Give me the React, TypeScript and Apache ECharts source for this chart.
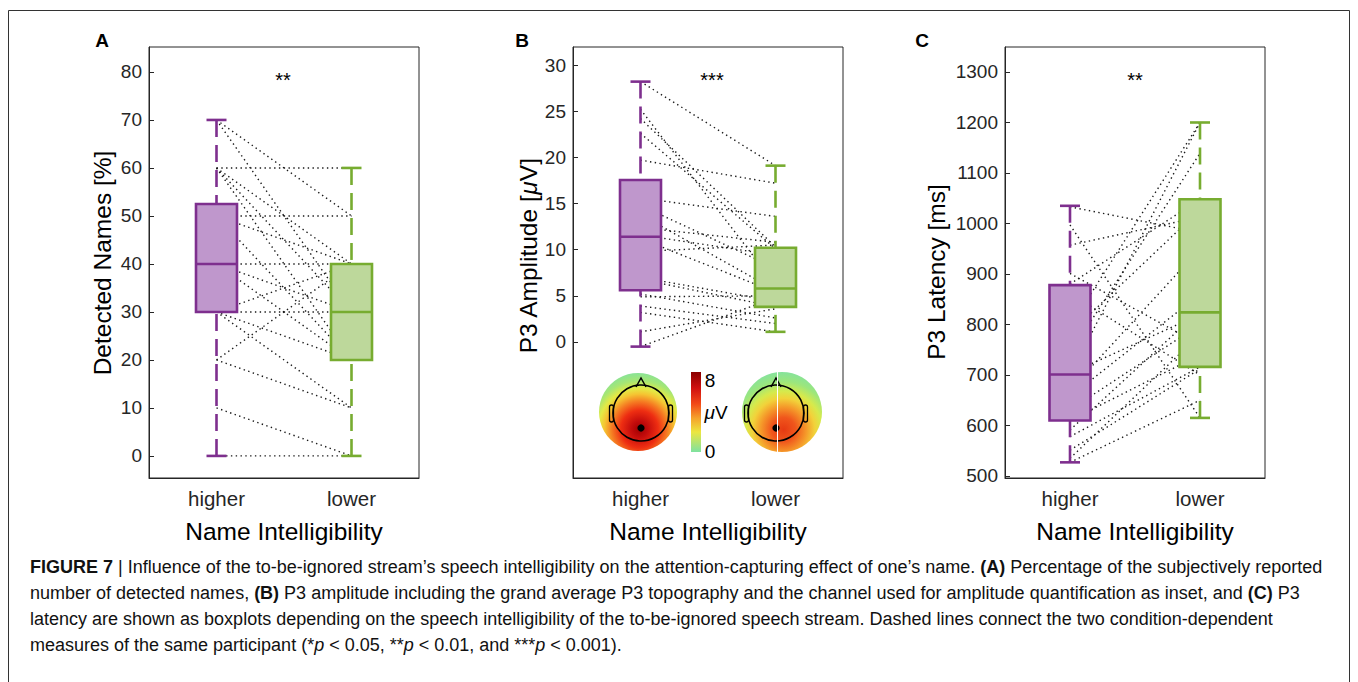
import React, { useEffect, useRef } from "react";
import * as echarts from "echarts";

const conditions = ["higher", "lower"];

// Panel A: detected names [%] per participant
const namesHigher = [70, 70, 60, 60, 60, 60, 50, 50, 50, 40, 40, 40, 30, 30, 30, 30, 20, 20, 10, 0];
const namesLower = [50, 30, 60, 40, 30, 20, 50, 40, 20, 40, 30, 20, 30, 20, 10, 40, 40, 10, 0, 0];
// box stats: [min, q1, median, q3, max]
const namesBoxHigher = [0, 30, 40, 52.5, 70];
const namesBoxLower = [0, 20, 30, 40, 60];

// Panel B: P3 amplitude [uV]
const ampHigher = [28.2, 25.2, 24.2, 22.6, 19.7, 15.6, 14.8, 13.8, 12.4, 11.6, 11.2, 9.8, 7.0, 6.8, 5.2, 4.9, 3.9, 3.2, 1.1, -0.5];
const ampLower = [19.1, 6.2, 10.3, 10.1, 17.2, 13.6, 8.0, 5.6, 10.8, 9.4, 5.4, 10.5, 4.4, 3.8, 2.6, 5.0, 2.0, 1.1, 3.6, 4.8];
const ampBoxHigher = [-0.5, 5.6, 11.4, 17.55, 28.2];
const ampBoxLower = [1.1, 3.8, 5.8, 10.2, 19.1];

// Panel C: P3 latency [ms]
const latHigher = [1033, 997, 957, 901, 880, 862, 796, 783, 743, 703, 700, 670, 657, 631, 610, 591, 578, 551, 535, 527];
const latLower = [982, 615, 1013, 760, 1048, 700, 1200, 1027, 1139, 820, 1200, 950, 860, 800, 740, 828, 716, 712, 780, 650];
const latBoxHigher = [527, 610, 701, 878, 1035];
const latBoxLower = [615, 716, 824, 1048, 1200];

// tick labels
const namesTicks = [0, 10, 20, 30, 40, 50, 60, 70, 80];
const ampTicks = [0, 5, 10, 15, 20, 25, 30];
const latTicks = [500, 600, 700, 800, 900, 1000, 1100, 1200, 1300];

const FONT = "'Liberation Sans', Arial, Helvetica, sans-serif";
const AX = "#262626";
const palette = [
  { stroke: "#7E2F8E", fill: "#BF97CC" },
  { stroke: "#77AC30", fill: "#BDD89B" },
];

const panels = [
  { left: 149, width: 270, min: -4.6, max: 85.2, ticks: namesTicks, hi: namesHigher, lo: namesLower, boxes: [namesBoxHigher, namesBoxLower] },
  { left: 573, width: 270, min: -14.73, max: 31.95, ticks: ampTicks, hi: ampHigher, lo: ampLower, boxes: [ampBoxHigher, ampBoxLower] },
  { left: 1005, width: 260, min: 496, max: 1349.5, ticks: latTicks, hi: latHigher, lo: latLower, boxes: [latBoxHigher, latBoxLower] },
];

const GRID_TOP = 47;
const GRID_H = 431;

function buildOption() {
  const grid: any[] = [];
  const xAxis: any[] = [];
  const yAxis: any[] = [];
  const series: any[] = [];
  panels.forEach((p, i) => {
    grid.push({ left: p.left, top: GRID_TOP, width: p.width, height: GRID_H, show: true, borderColor: AX, borderWidth: 1, containLabel: false });
    xAxis.push({
      type: "category", gridIndex: i, data: conditions, boundaryGap: true,
      axisLine: { onZero: false, lineStyle: { color: AX, width: 1 } },
      axisTick: { inside: true, alignWithLabel: true, length: 5, lineStyle: { color: AX } },
      axisLabel: { color: AX, fontSize: 20.5, margin: 10, fontFamily: FONT },
      name: "Name Intelligibility", nameLocation: "middle", nameGap: 41,
      nameTextStyle: { color: "#000", fontSize: 24.5, fontFamily: FONT },
      splitLine: { show: false },
    });
    yAxis.push({
      type: "value", gridIndex: i, min: p.min, max: p.max,
      axisLine: { show: true, onZero: false, lineStyle: { color: AX, width: 1 } },
      axisTick: { show: true, inside: true, length: 5, customValues: p.ticks, lineStyle: { color: AX } },
      axisLabel: { color: AX, fontSize: 19, margin: 7, fontFamily: FONT, customValues: p.ticks, formatter: (v: number) => String(v) },
      splitLine: { show: false },
    });
    series.push({
      type: "custom", xAxisIndex: i, yAxisIndex: i, z: 2, silent: true,
      data: p.hi.map((h, k) => [0, h, p.lo[k]]),
      encode: { x: 0, y: [1, 2] },
      renderItem: (params: any, api: any) => {
        const a = api.coord([0, api.value(1)]);
        const b = api.coord([1, api.value(2)]);
        return {
          type: "line",
          shape: { x1: a[0], y1: a[1], x2: b[0], y2: b[1] },
          style: { stroke: "#1a1a1a", lineWidth: 1.4, lineDash: [1.4, 3.4], fill: null },
        };
      },
    });
    series.push({
      type: "custom", xAxisIndex: i, yAxisIndex: i, z: 3, silent: true,
      data: p.boxes.map((b, k) => [k, ...b]),
      encode: { x: 0, y: [1, 2, 3, 4, 5] },
      renderItem: (params: any, api: any) => {
        const xi = api.value(0);
        const v = [1, 2, 3, 4, 5].map((d) => api.value(d));
        const x = api.coord([xi, v[2]])[0];
        const y = (val: number) => api.coord([xi, val])[1];
        const col = palette[xi];
        const hw = 20.5;
        const cw = 10;
        const dash = { stroke: col.stroke, lineWidth: 2.6, lineDash: [17, 8] };
        const solid = { stroke: col.stroke, lineWidth: 2.6 };
        return {
          type: "group",
          children: [
            { type: "line", shape: { x1: x, y1: y(v[4]), x2: x, y2: y(v[3]) }, style: dash },
            { type: "line", shape: { x1: x, y1: y(v[0]), x2: x, y2: y(v[1]) }, style: dash },
            { type: "line", shape: { x1: x - cw, y1: y(v[4]), x2: x + cw, y2: y(v[4]) }, style: solid },
            { type: "line", shape: { x1: x - cw, y1: y(v[0]), x2: x + cw, y2: y(v[0]) }, style: solid },
            { type: "rect", shape: { x: x - hw, y: y(v[3]), width: 2 * hw, height: y(v[1]) - y(v[3]) }, style: { fill: col.fill, stroke: col.stroke, lineWidth: 2.6 } },
            { type: "line", shape: { x1: x - hw, y1: y(v[2]), x2: x + hw, y2: y(v[2]) }, style: solid },
          ],
        };
      },
    });
  });

  const txt = (x: number, y: number, text: string, size: number, extra: any = {}) => ({
    type: "text", x, y, silent: true,
    style: { text, fontSize: size, fontFamily: FONT, fill: "#000", align: "center", verticalAlign: "middle", ...extra },
  });
  const rot = (x: number, y: number, text: string, rich: any = undefined) => ({
    type: "text", x, y, rotation: Math.PI / 2, silent: true,
    style: { text, fontSize: 24.5, fontFamily: FONT, fill: "#000", align: "center", verticalAlign: "middle", rich },
  });

  const topo = (cx: number, cy: number, r: number, hx: number, stops: any[]) => ({
    type: "group", silent: true,
    children: [
      { type: "circle", shape: { cx, cy, r }, style: { fill: { type: "radial", x: 0.52, y: 0.72, r: 0.75, colorStops: stops } } },
      { type: "circle", shape: { cx: hx, cy: cy + 1, r: 28 }, style: { fill: null, stroke: "#000", lineWidth: 1.6 } },
      { type: "polyline", shape: { points: [[hx - 5, cy - 25], [hx, cy - 34], [hx + 5, cy - 25]] }, style: { fill: null, stroke: "#000", lineWidth: 1.5 } },
      { type: "rect", shape: { x: hx - 31.5, y: cy - 7, width: 4, height: 17, r: 2 }, style: { fill: null, stroke: "#000", lineWidth: 1.3 } },
      { type: "rect", shape: { x: hx + 27.5, y: cy - 7, width: 4, height: 17, r: 2 }, style: { fill: null, stroke: "#000", lineWidth: 1.3 } },
      { type: "circle", shape: { cx: hx, cy: cy + 16, r: 3.6 }, style: { fill: "#000" } },
    ],
  });

  const CAP = 18;
  const capRich = {
    b: { fontWeight: "bold", fontSize: CAP, fontFamily: FONT, fill: "#111" },
    i: { fontStyle: "italic", fontSize: CAP, fontFamily: FONT, fill: "#111" },
  };
  const capLine = (y: number, text: string) => ({
    type: "text", x: 30, y, silent: true,
    style: { text, fontSize: CAP, fontFamily: FONT, fill: "#111", align: "left", verticalAlign: "middle", rich: capRich },
  });

  const graphic: any[] = [
    { type: "rect", silent: true, shape: { x: 8.5, y: 10.5, width: 1341, height: 700 }, style: { fill: null, stroke: "#333", lineWidth: 1 } },
    txt(102, 40, "A", 19, { fontWeight: "bold" }),
    txt(522, 40, "B", 19, { fontWeight: "bold" }),
    txt(922, 40, "C", 19, { fontWeight: "bold" }),
    txt(283, 80, "**", 20),
    txt(712, 80, "***", 20),
    txt(1135, 80, "**", 20),
    rot(102, 263, "Detected Names [%]"),
    rot(528, 256, "P3 Amplitude [{i|μ}V]", { i: { fontStyle: "italic", fontSize: 24.5, fontFamily: FONT, fill: "#000" } }),
    rot(936, 272, "P3 Latency [ms]"),
    topo(638, 412, 39, 641, [
      { offset: 0, color: "#A00000" },
      { offset: 0.14, color: "#C40C0C" },
      { offset: 0.32, color: "#EE2E12" },
      { offset: 0.47, color: "#F57A22" },
      { offset: 0.6, color: "#F5C432" },
      { offset: 0.7, color: "#E4EA45" },
      { offset: 0.83, color: "#A6E674" },
      { offset: 1, color: "#80E2A0" },
    ]),
    topo(782, 412, 40, 776, [
      { offset: 0, color: "#E63A12" },
      { offset: 0.2, color: "#F0561C" },
      { offset: 0.38, color: "#F59A2A" },
      { offset: 0.52, color: "#F2D23A" },
      { offset: 0.64, color: "#D6EA4C" },
      { offset: 0.8, color: "#9CE67C" },
      { offset: 1, color: "#80E2A4" },
    ]),
    { type: "line", silent: true, shape: { x1: 777.5, y1: 372, x2: 777.5, y2: 453 }, style: { stroke: "#ffffff", lineWidth: 1 } },
    {
      type: "rect", silent: true, shape: { x: 691, y: 372, width: 10, height: 80 },
      style: { fill: { type: "linear", x: 0, y: 0, x2: 0, y2: 1, colorStops: [
        { offset: 0, color: "#8A0000" },
        { offset: 0.2, color: "#D01010" },
        { offset: 0.4, color: "#F24A18" },
        { offset: 0.58, color: "#F5A42C" },
        { offset: 0.75, color: "#ECE640" },
        { offset: 1, color: "#7EE2A0" },
      ] } },
    },
    txt(710, 380, "8", 19),
    txt(716, 412, "{i|μ}V", 19, { rich: { i: { fontStyle: "italic", fontSize: 19, fontFamily: FONT, fill: "#000" } } }),
    txt(710, 451, "0", 19),
    capLine(567, "{b|FIGURE 7} | Influence of the to-be-ignored stream’s speech intelligibility on the attention-capturing effect of one’s name. {b|(A)} Percentage of the subjectively reported"),
    capLine(593, "number of detected names, {b|(B)} P3 amplitude including the grand average P3 topography and the channel used for amplitude quantification as inset, and {b|(C)} P3"),
    capLine(619, "latency are shown as boxplots depending on the speech intelligibility of the to-be-ignored speech stream. Dashed lines connect the two condition-dependent"),
    capLine(645, "measures of the same participant (*{i|p} < 0.05, **{i|p} < 0.01, and ***{i|p} < 0.001)."),
  ];

  return { animation: false, backgroundColor: "#ffffff", grid, xAxis, yAxis, series, graphic };
}

export default function App() {
  const ref = useRef<HTMLDivElement>(null);
  useEffect(() => {
    if (!ref.current) return;
    const chart = echarts.init(ref.current, undefined, { renderer: "svg" });
    chart.setOption(buildOption() as any);
    return () => chart.dispose();
  }, []);
  return <div ref={ref} style={{ position: "absolute", left: 0, top: 0, width: 1358, height: 682, background: "#fff" }} />;
}
